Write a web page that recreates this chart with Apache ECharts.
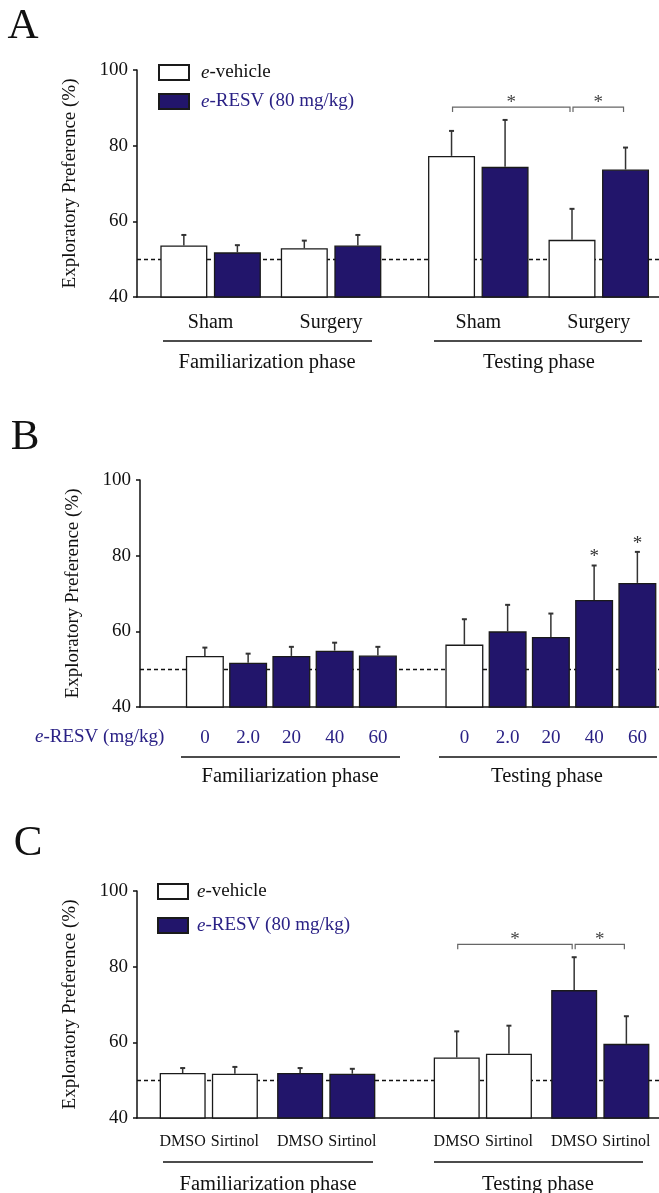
<!DOCTYPE html>
<html>
<head>
<meta charset="utf-8">
<script src="https://cdn.jsdelivr.net/npm/echarts@6/dist/echarts.min.js"></script>
<style>
html, body { margin: 0; padding: 0; background: #fff; }
#fig { width: 659px; height: 1193px; }
</style>
</head>
<body>
<div id="fig"></div>
<script>
// ---- data ----
// A: familiarization Sham, Surgery / testing Sham, Surgery
var groupsA = ['Sham', 'Surgery', 'Sham', 'Surgery'];
var vehicleA = [53.6, 52.9, 77.3, 55.1];
var vehicleSemA = [2.8, 2.0, 6.6, 8.2];
var resvA = [51.8, 53.6, 74.4, 73.7];
var resvSemA = [1.9, 2.8, 12.4, 5.8];

// B: dose response, e-RESV (mg/kg)
var dosesB = ['0', '2.0', '20', '40', '60'];
var famB = [53.5, 51.7, 53.5, 54.9, 53.6];
var famSemB = [2.2, 2.4, 2.4, 2.1, 2.3];
var testB = [56.5, 60.0, 58.5, 68.3, 72.8];
var testSemB = [6.7, 7.0, 6.2, 9.1, 8.2];

// C: DMSO / Sirtinol, vehicle pair then e-RESV pair
var drugsC = ['DMSO', 'Sirtinol'];
var vehicleFamC = [51.9, 51.7];
var vehicleFamSemC = [1.3, 1.8];
var resvFamC = [51.9, 51.7];
var resvFamSemC = [1.3, 1.3];
var vehicleTestC = [56.0, 57.0];
var vehicleTestSemC = [6.9, 7.4];
var resvTestC = [73.8, 59.6];
var resvTestSemC = [8.7, 7.3];

var chanceLevel = 50;
var yTicks = [40, 60, 80, 100];

// ---- layout ----
var FONT = '"Liberation Serif", "Times New Roman", serif';
var NAVY = '#22156b';
var BLUE = '#2a2185';
var EDGE = '#1a1a1a';

// category slots per panel (bars sit on slots, blank slots give spacing)
var nA = 39, vehSlotsA = [3, 12, 23, 32], resvSlotsA = [7, 16, 27, 36], labelSlotsA = [5, 14, 25, 34];
var nB = 12, famSlotsB = [1, 2, 3, 4, 5], testSlotsB = [7, 8, 9, 10, 11];
var nC = 40, vehSlotsC = [3, 7, 24, 28], resvSlotsC = [12, 16, 33, 37];

function fill(n, slots, vals, out) {
  var a = out || new Array(n).fill('-');
  slots.forEach(function (s, i) { a[s] = vals[i]; });
  return a;
}
function errs(slots, vals, sems) {
  return slots.map(function (s, i) { return [s, vals[i], sems[i]]; });
}
function cats(n) {
  var c = [];
  for (var i = 0; i < n; i++) c.push('s' + i);
  return c;
}

function renderErr(params, api) {
  var b = api.coord([api.value(0), api.value(1)]);
  var t = api.coord([api.value(0), api.value(1) + api.value(2)]);
  return {
    type: 'group',
    children: [
      { type: 'line', shape: { x1: b[0], y1: b[1], x2: t[0], y2: t[1] }, style: { stroke: '#333', lineWidth: 1.5 } },
      { type: 'line', shape: { x1: t[0] - 2.5, y1: t[1], x2: t[0] + 2.5, y2: t[1] }, style: { stroke: '#333', lineWidth: 2 } }
    ]
  };
}
function renderBracket(params, api) {
  var a = api.coord([api.value(0), api.value(2)]);
  var b = api.coord([api.value(1), api.value(2)]);
  var x1 = a[0] + 1, x2 = b[0] - 2, y = a[1];
  return {
    type: 'group',
    children: [
      { type: 'polyline', shape: { points: [[x1, y + 5], [x1, y], [x2, y], [x2, y + 5]] }, style: { stroke: '#666', lineWidth: 1.2, fill: null } },
      { type: 'text', x: (x1 + x2) / 2, y: y - 4, style: { text: '*', fontSize: 19, fontFamily: FONT, fill: '#444', align: 'center', verticalAlign: 'middle', textAlign: 'center', textVerticalAlign: 'middle' } }
    ]
  };
}
function renderStar(params, api) {
  var p = api.coord([api.value(0), api.value(1)]);
  return { type: 'text', x: p[0], y: p[1] - 8, style: { text: '*', fontSize: 19, fontFamily: FONT, fill: '#333', align: 'center', verticalAlign: 'middle', textAlign: 'center', textVerticalAlign: 'middle' } };
}

function yAxisOf(idx) {
  return {
    gridIndex: idx, type: 'value', min: yTicks[0], max: yTicks[yTicks.length - 1], interval: 20,
    name: 'Exploratory Preference (%)', nameLocation: 'middle', nameGap: 57,
    nameTextStyle: { fontFamily: FONT, fontSize: 19, color: '#111' },
    axisLine: { show: true, lineStyle: { color: '#111', width: 1.5 } },
    axisTick: { show: true, length: 4, lineStyle: { color: '#111', width: 1.5 } },
    axisLabel: { fontFamily: FONT, fontSize: 19, color: '#111', margin: 9 },
    splitLine: { show: false }
  };
}
function xAxisOf(idx, n, labels, style) {
  return {
    gridIndex: idx, type: 'category', data: cats(n),
    axisLine: { show: true, lineStyle: { color: '#111', width: 1.5 } },
    axisTick: { show: false },
    axisLabel: {
      interval: 0, margin: style.margin, fontFamily: FONT, fontSize: style.size, color: style.color,
      formatter: function (v, i) { return labels[i] || ''; }
    }
  };
}

var labelMapA = fill(nA, labelSlotsA, groupsA, new Array(nA).fill(''));
var labelMapB = fill(nB, testSlotsB, dosesB, fill(nB, famSlotsB, dosesB, new Array(nB).fill('')));
var labelMapC = fill(nC, vehSlotsC.concat(resvSlotsC), drugsC.concat(drugsC, drugsC, drugsC), new Array(nC).fill(''));

var whiteStyle = { color: '#fff', borderColor: EDGE, borderWidth: 1.3 };
var navyStyle = { color: NAVY, borderColor: EDGE, borderWidth: 1.3 };
var chanceLine = {
  silent: true, z: 1, symbol: ['none', 'none'], label: { show: false },
  lineStyle: { type: [4, 3], color: '#111', width: 1.3 },
  data: [{ yAxis: chanceLevel }]
};

function bars(name, idx, data, style, width, withLine) {
  var s = {
    name: name, type: 'bar', xAxisIndex: idx, yAxisIndex: idx, data: data,
    barWidth: width, barGap: '-100%', itemStyle: style, z: 2, silent: true
  };
  if (withLine) s.markLine = chanceLine;
  return s;
}
function errSeries(idx, data) {
  return { type: 'custom', xAxisIndex: idx, yAxisIndex: idx, renderItem: renderErr, data: data, encode: { x: 0, y: 1 }, z: 3, silent: true };
}

var legendRich = {
  i: { fontFamily: FONT, fontSize: 19, fontStyle: 'italic', color: '#111', lineHeight: 18 },
  n: { fontFamily: FONT, fontSize: 19, color: '#111', lineHeight: 18 },
  ib: { fontFamily: FONT, fontSize: 19, fontStyle: 'italic', color: BLUE, lineHeight: 18 },
  nb: { fontFamily: FONT, fontSize: 19, color: BLUE, lineHeight: 18 }
};
function legendOf(left, top, gap, pad) {
  return {
    left: left, top: top, padding: 0, orient: 'vertical', itemWidth: 30, itemHeight: 15, itemGap: gap,
    selectedMode: false, icon: 'rect',
    data: ['e-vehicle', 'e-RESV (80 mg/kg)'],
    textStyle: { padding: [0, 0, 0, pad], rich: legendRich },
    formatter: function (name) {
      return name === 'e-vehicle' ? '{i|e}{n|-vehicle}' : '{ib|e}{nb|-RESV (80 mg/kg)}';
    }
  };
}

function txt(x, y, text, size, extra) {
  var st = { text: text, fontFamily: FONT, fontSize: size, fill: '#111', align: 'center', verticalAlign: 'middle', textAlign: 'center', textVerticalAlign: 'middle' };
  if (extra) for (var k in extra) st[k] = extra[k];
  return { type: 'text', x: x, y: y, style: st, silent: true };
}
function hline(x1, x2, y) {
  return { type: 'line', shape: { x1: x1, y1: y, x2: x2, y2: y }, style: { stroke: '#111', lineWidth: 1.5 }, silent: true };
}

var option = {
  backgroundColor: '#fff',
  animation: false,
  grid: [
    { left: 137, top: 70, width: 522, height: 227 },
    { left: 140, top: 480, width: 519, height: 227 },
    { left: 137, top: 891, width: 522, height: 227 }
  ],
  xAxis: [
    xAxisOf(0, nA, labelMapA, { margin: 16, size: 20, color: '#111' }),
    xAxisOf(1, nB, labelMapB, { margin: 22, size: 19, color: BLUE }),
    xAxisOf(2, nC, labelMapC, { margin: 16, size: 16, color: '#111' })
  ],
  yAxis: [yAxisOf(0), yAxisOf(1), yAxisOf(2)],
  legend: [legendOf(158, 63, 10, 7), legendOf(157, 882, 15, 4)],
  series: [
    // panel A
    bars('e-vehicle', 0, fill(nA, vehSlotsA, vehicleA), whiteStyle, 47, true),
    bars('e-RESV (80 mg/kg)', 0, fill(nA, resvSlotsA, resvA), navyStyle, 47),
    errSeries(0, errs(vehSlotsA, vehicleA, vehicleSemA).concat(errs(resvSlotsA, resvA, resvSemA))),
    { type: 'custom', xAxisIndex: 0, yAxisIndex: 0, renderItem: renderBracket, encode: { x: [0, 1], y: 2 }, z: 3, silent: true,
      data: [[vehSlotsA[2], vehSlotsA[3], 90.2], [vehSlotsA[3], resvSlotsA[3], 90.2]] },
    // panel B
    bars('vehicle B', 1, fill(nB, [famSlotsB[0], testSlotsB[0]], [famB[0], testB[0]]), whiteStyle, 38, true),
    bars('resv B', 1, fill(nB, testSlotsB.slice(1), testB.slice(1), fill(nB, famSlotsB.slice(1), famB.slice(1))), navyStyle, 38),
    errSeries(1, errs(famSlotsB, famB, famSemB).concat(errs(testSlotsB, testB, testSemB))),
    { type: 'custom', xAxisIndex: 1, yAxisIndex: 1, renderItem: renderStar, encode: { x: 0, y: 1 }, z: 3, silent: true,
      data: [[testSlotsB[3], testB[3] + testSemB[3]], [testSlotsB[4], testB[4] + testSemB[4]]] },
    // panel C
    bars('e-vehicle', 2, fill(nC, vehSlotsC, vehicleFamC.concat(vehicleTestC)), whiteStyle, 46, true),
    bars('e-RESV (80 mg/kg)', 2, fill(nC, resvSlotsC, resvFamC.concat(resvTestC)), navyStyle, 46),
    errSeries(2, errs(vehSlotsC, vehicleFamC.concat(vehicleTestC), vehicleFamSemC.concat(vehicleTestSemC))
      .concat(errs(resvSlotsC, resvFamC.concat(resvTestC), resvFamSemC.concat(resvTestSemC)))),
    { type: 'custom', xAxisIndex: 2, yAxisIndex: 2, renderItem: renderBracket, encode: { x: [0, 1], y: 2 }, z: 3, silent: true,
      data: [[vehSlotsC[2], resvSlotsC[2], 85.9], [resvSlotsC[2], resvSlotsC[3], 85.9]] }
  ],
  graphic: [
    txt(23, 27, 'A', 43), txt(25, 438, 'B', 43), txt(28, 844, 'C', 43),
    // group underlines + phase names
    hline(163, 372, 341), hline(434, 642, 341),
    txt(267, 363, 'Familiarization phase', 20.5), txt(539, 363, 'Testing phase', 20.5),
    hline(181, 400, 757), hline(439, 657, 757),
    txt(290, 777, 'Familiarization phase', 20.5), txt(547, 777, 'Testing phase', 20.5),
    hline(163, 373, 1162), hline(434, 643, 1162),
    txt(268, 1185, 'Familiarization phase', 20.5), txt(538, 1185, 'Testing phase', 20.5),
    txt(35, 737, '{i|e}{n|-RESV (mg/kg)}', 19, {
      align: 'left', textAlign: 'left',
      rich: {
        i: { fontFamily: FONT, fontSize: 19, fontStyle: 'italic', fill: BLUE, color: BLUE },
        n: { fontFamily: FONT, fontSize: 19, fill: BLUE, color: BLUE }
      }
    })
  ]
};

var chart = echarts.init(document.getElementById('fig'), null, { renderer: 'canvas' });
chart.setOption(option);
</script>
</body>
</html>
